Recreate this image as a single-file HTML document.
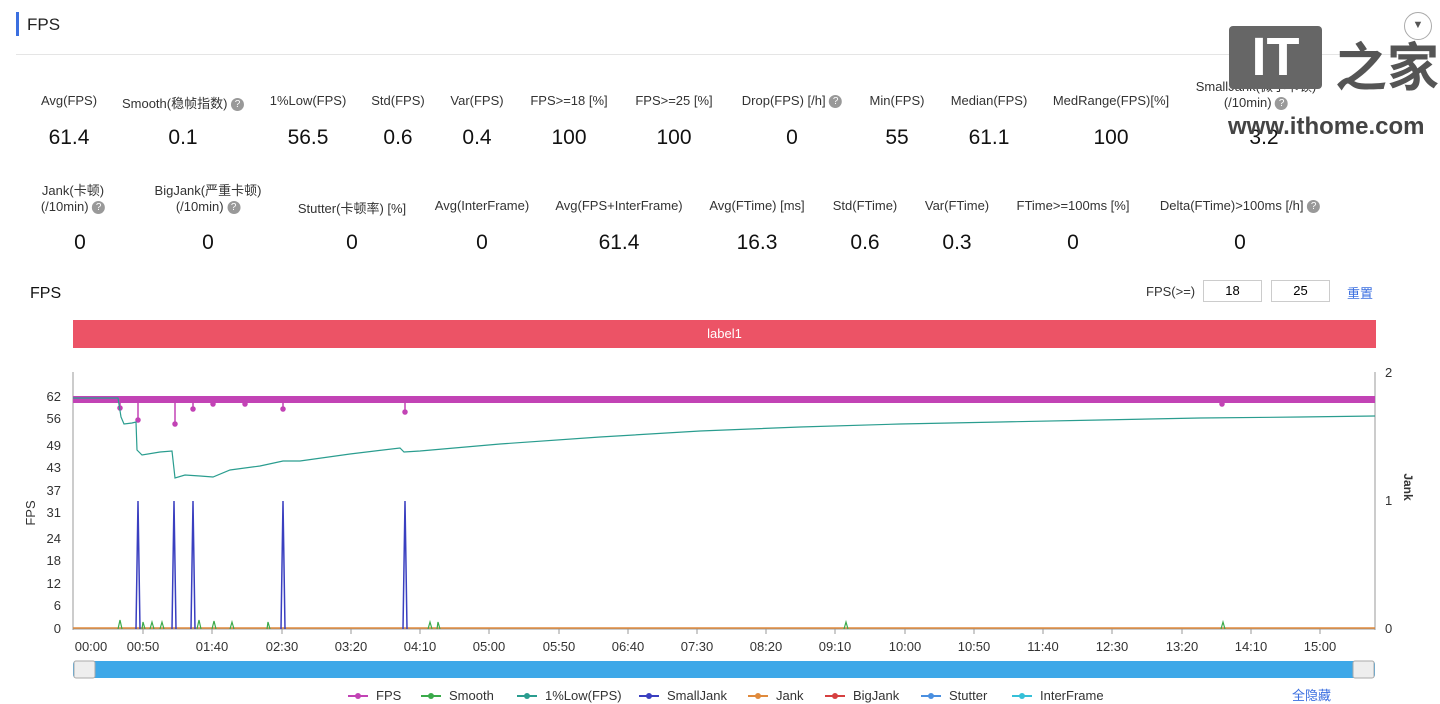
<!DOCTYPE html><html><head><meta charset="utf-8"><style>
body{margin:0;width:1440px;height:704px;background:#fff;font-family:"Liberation Sans","Noto Sans CJK SC",sans-serif;overflow:hidden;position:relative}
.l{position:absolute;font-size:13px;color:#333;text-align:center;white-space:nowrap;transform:translateX(-50%)}
.v{position:absolute;font-size:21px;color:#111;transform:translateX(-50%)}
.q{display:inline-block;width:13px;height:13px;border-radius:50%;background:#999;color:#fff;font-size:10px;line-height:13px;vertical-align:middle}
</style></head><body>
<div style="position:absolute;left:16px;top:12px;width:3px;height:24px;background:#3b6fe0"></div>
<div style="position:absolute;left:27px;top:15px;font-size:17px;color:#222">FPS</div>
<div style="position:absolute;left:16px;top:54px;width:1416px;height:1px;background:#e5e5e5"></div>
<div style="position:absolute;left:1404px;top:12px;width:26px;height:26px;border:1px solid #aaa;border-radius:50%;text-align:center;font-size:11px;line-height:24px;color:#555">▼</div>

<div class="l" style="left:69px;top:93px">Avg(FPS)</div><div class="v" style="left:69px;top:126px">61.4</div>
<div class="l" style="left:183px;top:93px">Smooth(稳帧指数) <span class="q">?</span></div><div class="v" style="left:183px;top:126px">0.1</div>
<div class="l" style="left:308px;top:93px">1%Low(FPS)</div><div class="v" style="left:308px;top:126px">56.5</div>
<div class="l" style="left:398px;top:93px">Std(FPS)</div><div class="v" style="left:398px;top:126px">0.6</div>
<div class="l" style="left:477px;top:93px">Var(FPS)</div><div class="v" style="left:477px;top:126px">0.4</div>
<div class="l" style="left:569px;top:93px">FPS&gt;=18 [%]</div><div class="v" style="left:569px;top:126px">100</div>
<div class="l" style="left:674px;top:93px">FPS&gt;=25 [%]</div><div class="v" style="left:674px;top:126px">100</div>
<div class="l" style="left:792px;top:93px">Drop(FPS) [/h] <span class="q">?</span></div><div class="v" style="left:792px;top:126px">0</div>
<div class="l" style="left:897px;top:93px">Min(FPS)</div><div class="v" style="left:897px;top:126px">55</div>
<div class="l" style="left:989px;top:93px">Median(FPS)</div><div class="v" style="left:989px;top:126px">61.1</div>
<div class="l" style="left:1111px;top:93px">MedRange(FPS)[%]</div><div class="v" style="left:1111px;top:126px">100</div>
<div class="l" style="left:1256px;top:76px">SmallJank(微小卡顿)<br>(/10min) <span class="q">?</span></div><div class="v" style="left:1264px;top:126px">3.2</div>

<div class="l" style="left:73px;top:180px">Jank(卡顿)<br>(/10min) <span class="q">?</span></div><div class="v" style="left:80px;top:231px">0</div>
<div class="l" style="left:208px;top:180px">BigJank(严重卡顿)<br>(/10min) <span class="q">?</span></div><div class="v" style="left:208px;top:231px">0</div>
<div class="l" style="left:352px;top:198px">Stutter(卡顿率) [%]</div><div class="v" style="left:352px;top:231px">0</div>
<div class="l" style="left:482px;top:198px">Avg(InterFrame)</div><div class="v" style="left:482px;top:231px">0</div>
<div class="l" style="left:619px;top:198px">Avg(FPS+InterFrame)</div><div class="v" style="left:619px;top:231px">61.4</div>
<div class="l" style="left:757px;top:198px">Avg(FTime) [ms]</div><div class="v" style="left:757px;top:231px">16.3</div>
<div class="l" style="left:865px;top:198px">Std(FTime)</div><div class="v" style="left:865px;top:231px">0.6</div>
<div class="l" style="left:957px;top:198px">Var(FTime)</div><div class="v" style="left:957px;top:231px">0.3</div>
<div class="l" style="left:1073px;top:198px">FTime&gt;=100ms [%]</div><div class="v" style="left:1073px;top:231px">0</div>
<div class="l" style="left:1240px;top:198px">Delta(FTime)&gt;100ms [/h] <span class="q">?</span></div><div class="v" style="left:1240px;top:231px">0</div>

<div style="position:absolute;left:30px;top:285px;font-size:16px;color:#111">FPS</div>
<div style="position:absolute;left:1146px;top:284px;font-size:13px;color:#333">FPS(&gt;=)</div>
<div style="position:absolute;left:1203px;top:280px;width:57px;height:20px;border:1px solid #ccc;font-size:13px;text-align:center;line-height:20px">18</div>
<div style="position:absolute;left:1271px;top:280px;width:57px;height:20px;border:1px solid #ccc;font-size:13px;text-align:center;line-height:20px">25</div>
<div style="position:absolute;left:1347px;top:283px;font-size:13px;color:#3b6fe0">重置</div>
<div style="position:absolute;left:73px;top:320px;width:1303px;height:28px;background:#ec5366;color:#fff;font-size:13px;text-align:center;line-height:28px">label1</div>

<!-- IT home watermark -->
<div style="position:absolute;left:1229px;top:26px;width:93px;height:63px;background:#666;border-radius:4px;color:#fff;font-size:54px;font-weight:bold;text-align:center;line-height:63px">IT</div>
<div style="position:absolute;left:1335px;top:26px;font-size:52px;color:#555;font-weight:bold">之家</div>
<div style="position:absolute;left:1228px;top:113px;font-size:24px;color:#444;font-weight:bold">www.ithome.com</div>

<svg width="1440" height="704" style="position:absolute;left:0;top:0" font-family="Liberation Sans, sans-serif" font-size="13" fill="#333">
<g stroke="#999" stroke-width="1">
<line x1="73" y1="372" x2="73" y2="630"/><line x1="1375" y1="372" x2="1375" y2="630"/>
<line x1="73" y1="629" x2="1375" y2="629"/>
</g>
<g text-anchor="end">
<text x="61" y="401">62</text><text x="61" y="423">56</text><text x="61" y="450">49</text><text x="61" y="472">43</text><text x="61" y="495">37</text><text x="61" y="517">31</text><text x="61" y="543">24</text><text x="61" y="565">18</text><text x="61" y="588">12</text><text x="61" y="610">6</text><text x="61" y="633">0</text>
</g>
<text x="1385" y="377">2</text><text x="1385" y="505">1</text><text x="1385" y="633">0</text>
<text transform="translate(35,513) rotate(-90)" text-anchor="middle">FPS</text>
<text transform="translate(1404,487) rotate(90)" text-anchor="middle" font-size="12" font-weight="bold">Jank</text>
<g text-anchor="middle" fill="#333">
<text x="91" y="651">00:00</text><text x="143" y="651">00:50</text><text x="212" y="651">01:40</text><text x="282" y="651">02:30</text><text x="351" y="651">03:20</text><text x="420" y="651">04:10</text><text x="489" y="651">05:00</text><text x="559" y="651">05:50</text><text x="628" y="651">06:40</text><text x="697" y="651">07:30</text><text x="766" y="651">08:20</text><text x="835" y="651">09:10</text><text x="905" y="651">10:00</text><text x="974" y="651">10:50</text><text x="1043" y="651">11:40</text><text x="1112" y="651">12:30</text><text x="1182" y="651">13:20</text><text x="1251" y="651">14:10</text><text x="1320" y="651">15:00</text>
</g>
<g stroke="#999"><line x1="143" y1="629" x2="143" y2="634"/><line x1="212" y1="629" x2="212" y2="634"/><line x1="282" y1="629" x2="282" y2="634"/><line x1="351" y1="629" x2="351" y2="634"/><line x1="420" y1="629" x2="420" y2="634"/><line x1="489" y1="629" x2="489" y2="634"/><line x1="559" y1="629" x2="559" y2="634"/><line x1="628" y1="629" x2="628" y2="634"/><line x1="697" y1="629" x2="697" y2="634"/><line x1="766" y1="629" x2="766" y2="634"/><line x1="835" y1="629" x2="835" y2="634"/><line x1="905" y1="629" x2="905" y2="634"/><line x1="974" y1="629" x2="974" y2="634"/><line x1="1043" y1="629" x2="1043" y2="634"/><line x1="1112" y1="629" x2="1112" y2="634"/><line x1="1182" y1="629" x2="1182" y2="634"/><line x1="1251" y1="629" x2="1251" y2="634"/><line x1="1320" y1="629" x2="1320" y2="634"/></g>
<line x1="73" y1="628" x2="1375" y2="628" stroke="#e08a3c" stroke-width="1.5"/>
<rect x="73" y="396" width="1302" height="7" fill="#c243b5"/>
<g stroke="#c243b5" stroke-width="1.5" fill="#c243b5">
<line x1="120" y1="400" x2="120" y2="408"/><circle cx="120" cy="408" r="2"/>
<line x1="138" y1="400" x2="138" y2="420"/><circle cx="138" cy="420" r="2"/>
<line x1="175" y1="400" x2="175" y2="424"/><circle cx="175" cy="424" r="2"/>
<line x1="193" y1="400" x2="193" y2="409"/><circle cx="193" cy="409" r="2"/>
<line x1="283" y1="400" x2="283" y2="409"/><circle cx="283" cy="409" r="2"/>
<line x1="405" y1="400" x2="405" y2="412"/><circle cx="405" cy="412" r="2"/>
<circle cx="1222" cy="404" r="2"/><circle cx="213" cy="404" r="2"/><circle cx="245" cy="404" r="2"/>
</g>
<polyline fill="none" stroke="#2a9d8f" stroke-width="1.2" points="73,398 118,398 121,417 124,424 132,423 136,422 137,450 142,455 160,452 172,451 175,478 185,475 200,476 213,477 230,470 260,466 283,461 300,461 350,454 400,448 404,452 420,451 500,444 600,437 700,431 800,427 900,424 1000,422 1100,420 1200,418 1300,417 1375,416"/>
<g stroke="#3a3fc0" stroke-width="1.5" fill="none">
<polyline points="136,629 138,501 140,629"/><polyline points="172,629 174,501 176,629"/><polyline points="191,629 193,501 195,629"/><polyline points="281,629 283,501 285,629"/><polyline points="403,629 405,501 407,629"/>
</g>
<g stroke="#3aaa4a" stroke-width="1.2" fill="none">
<polyline points="118,629 120,620 122,629"/><polyline points="142,629 143,622 145,629"/><polyline points="150,629 152,622 154,629"/><polyline points="160,629 162,622 164,629"/><polyline points="197,629 199,620 201,629"/><polyline points="212,629 214,621 216,629"/><polyline points="230,629 232,622 234,629"/><polyline points="267,629 268,622 270,629"/><polyline points="428,629 430,622 432,629"/><polyline points="437,629 438,622 440,629"/><polyline points="844,629 846,622 848,629"/><polyline points="1221,629 1223,622 1225,629"/>
</g>
<rect x="73" y="661" width="1302" height="17" rx="3" fill="#3ea8e8"/>
<rect x="74" y="661" width="21" height="17" rx="2" fill="#eee" stroke="#aaa"/>
<rect x="1353" y="661" width="21" height="17" rx="2" fill="#eee" stroke="#aaa"/>
<g font-size="13">
<line x1="348" y1="696" x2="368" y2="696" stroke="#c243b5" stroke-width="2"/><circle cx="358" cy="696" r="3" fill="#c243b5"/><text x="376" y="700">FPS</text>
<line x1="421" y1="696" x2="441" y2="696" stroke="#3aaa4a" stroke-width="2"/><circle cx="431" cy="696" r="3" fill="#3aaa4a"/><text x="449" y="700">Smooth</text>
<line x1="517" y1="696" x2="537" y2="696" stroke="#2a9d8f" stroke-width="2"/><circle cx="527" cy="696" r="3" fill="#2a9d8f"/><text x="545" y="700">1%Low(FPS)</text>
<line x1="639" y1="696" x2="659" y2="696" stroke="#3a3fc0" stroke-width="2"/><circle cx="649" cy="696" r="3" fill="#3a3fc0"/><text x="667" y="700">SmallJank</text>
<line x1="748" y1="696" x2="768" y2="696" stroke="#e08a3c" stroke-width="2"/><circle cx="758" cy="696" r="3" fill="#e08a3c"/><text x="776" y="700">Jank</text>
<line x1="825" y1="696" x2="845" y2="696" stroke="#d64040" stroke-width="2"/><circle cx="835" cy="696" r="3" fill="#d64040"/><text x="853" y="700">BigJank</text>
<line x1="921" y1="696" x2="941" y2="696" stroke="#4a8fe0" stroke-width="2"/><circle cx="931" cy="696" r="3" fill="#4a8fe0"/><text x="949" y="700">Stutter</text>
<line x1="1012" y1="696" x2="1032" y2="696" stroke="#36c0d8" stroke-width="2"/><circle cx="1022" cy="696" r="3" fill="#36c0d8"/><text x="1040" y="700">InterFrame</text>
<text x="1292" y="700" fill="#3b6fe0">全隐藏</text>
</g>
</svg>
</body></html>
